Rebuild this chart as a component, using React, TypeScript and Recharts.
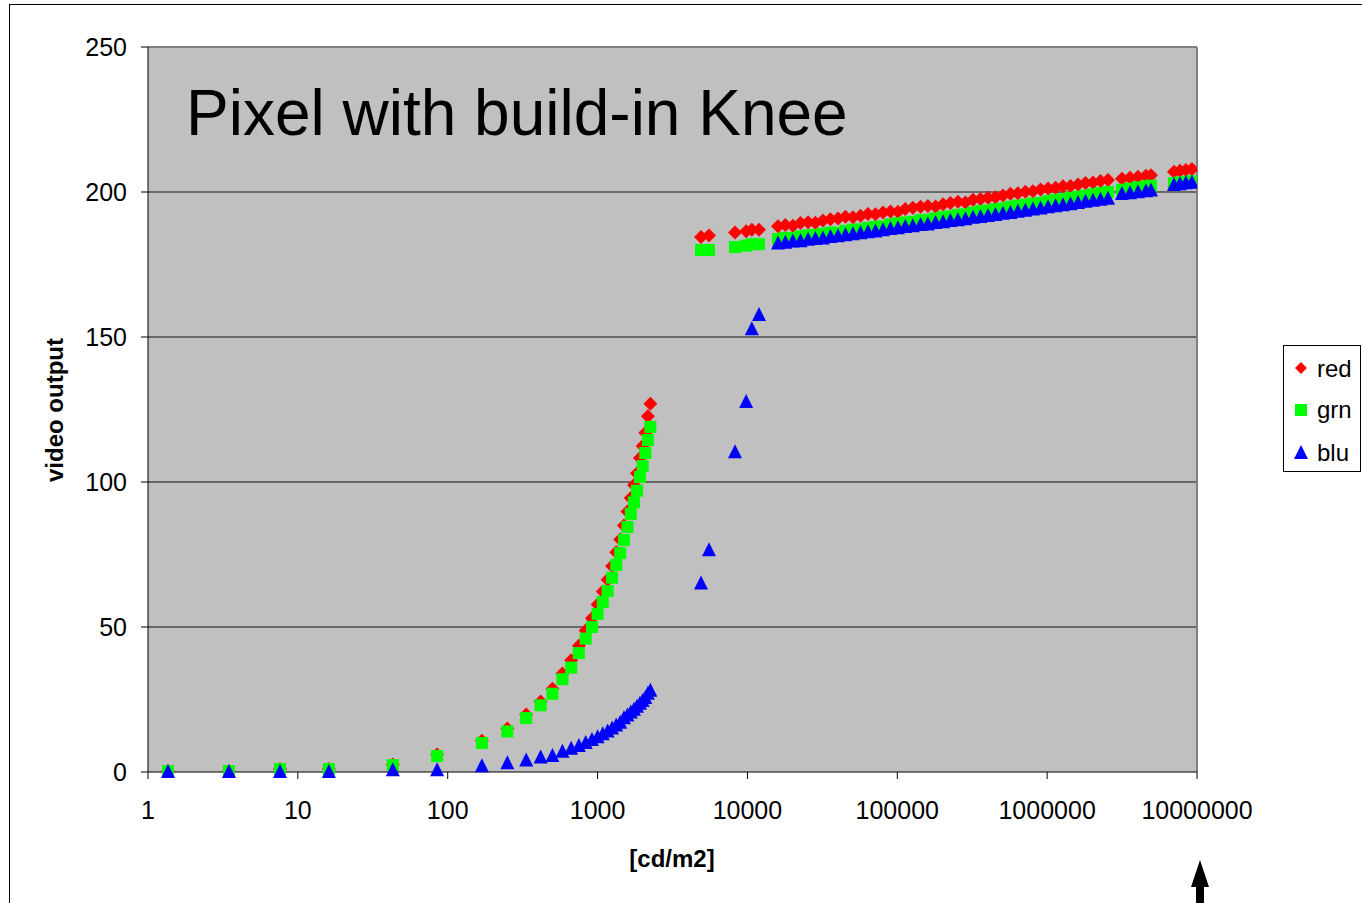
import React from "react";
import { ScatterChart, Scatter, XAxis, YAxis, ReferenceLine, ReferenceArea } from "recharts";

// luminance [cd/m2], one row per exposure step
const lowX = [
  1.36, 3.47, 7.6, 16.1, 43, 85,
  169, 250, 334, 417, 500, 583, 667, 750, 833, 917,
  1000, 1083, 1167, 1250, 1333, 1417, 1500, 1583, 1667, 1750,
  1833, 1917, 2000, 2083, 2167, 2250,
];
const midX = [4900, 5540, 8260, 9800, 10700, 11950];
const highX = [
  16000, 17900, 20100, 22600, 25400, 28400, 31900, 35800, 40200, 45100,
  50600, 56800, 63700, 71500, 80300, 90100, 101000, 113000, 127000, 143000,
  160000, 180000, 202000, 226000, 254000, 285000, 320000, 359000, 403000, 452000,
  507000, 569000, 638000, 716000, 804000, 904000, 1014000, 1138000, 1276000, 1432000,
  1607000, 1803000, 2023000, 2270000, 2547000,
  3157000, 3571000, 4038000, 4564000, 4932000,
  7020000, 7696000, 8437000, 9250000,
];

const redLow = [
  0.3, 0.3, 1, 1, 2.6, 6,
  10.8, 15, 19.8, 24.3, 28.7, 34, 38.5, 43.5, 48.8, 53,
  57.8, 62.2, 66.3, 71, 75.8, 80.2, 85, 89.8, 94.5, 99,
  103, 108.3, 112.4, 117, 122.7, 127,
];
const grnLow = [
  0.3, 0.3, 1, 1, 2.4, 5.5,
  10, 14, 18.6, 23, 27, 32, 36, 41, 46, 50,
  54.5, 58.6, 62.4, 67, 71.4, 75.5, 80, 84.5, 89, 93,
  97, 101.7, 105.5, 110, 114.5, 119,
];
const bluLow = [
  0, 0, 0, 0, 0.6, 0.6,
  2, 3, 4, 5, 5.5, 7, 8, 9, 10, 11,
  12, 13, 14, 15, 16, 17, 18.5, 19.5, 20.5, 21.5,
  22.5, 23.5, 24.5, 25.5, 27, 28,
];

const redMid = [184.5, 185, 186, 186.5, 187, 187];
const grnMid = [180, 180, 181, 181.5, 182, 182];
const bluMid = [65, 76.5, 110.3, 127.6, 152.7, 157.6];

const redHigh = [
  188.2, 188.6, 188.4, 189.3, 189.6, 189.4, 190.2, 190.6, 190.9, 191.5,
  191.3, 191.8, 192.4, 192.3, 192.9, 193.3, 193.2, 194.1, 194.6, 194.9,
  195.2, 195.0, 195.8, 196.2, 196.6, 196.4, 197.3, 197.6, 198.0, 198.2,
  198.8, 199.4, 199.6, 200.1, 200.3, 200.9, 201.2, 201.5, 202.0, 202.1,
  202.6, 203.1, 203.3, 203.8, 204.1,
  204.6, 204.9, 205.3, 205.6, 205.8,
  207.0, 207.3, 207.6, 207.9,
];
const grnHigh = [
  183.8, 184.2, 184.1, 184.7, 185.0, 185.2, 185.6, 186.0, 185.9, 186.6,
  187.0, 187.1, 187.6, 188.0, 188.1, 188.8, 189.2, 189.5, 189.7, 190.3,
  190.4, 190.9, 191.4, 191.6, 192.1, 192.3, 192.8, 193.4, 193.6, 194.1,
  194.3, 194.9, 195.3, 195.6, 196.0, 196.2, 196.8, 197.3, 197.5, 198.0,
  198.3, 198.7, 199.2, 199.6, 200.0,
  200.8, 201.2, 201.6, 201.9, 202.2,
  203.0, 203.3, 203.5, 203.7,
];
const bluHigh = [
  182.2, 182.5, 182.9, 183.0, 183.5, 183.8, 184.0, 184.5, 184.7, 185.1,
  185.4, 185.8, 186.1, 186.4, 186.8, 187.2, 187.5, 187.9, 188.2, 188.6,
  188.8, 189.3, 189.6, 190.0, 190.3, 190.6, 191.1, 191.4, 191.7, 192.1,
  192.5, 192.8, 193.2, 193.5, 194.0, 194.3, 194.7, 195.1, 195.4, 195.8,
  196.2, 196.6, 197.0, 197.3, 197.7,
  199.3, 199.6, 199.9, 200.3, 200.5,
  202.4, 202.7, 203.0, 203.2,
];

const xTicks = [1, 10, 100, 1000, 10000, 100000, 1000000, 10000000];
const yTicks = [0, 50, 100, 150, 200, 250];
const gridLines = [50, 100, 150, 200];

const FONT = "'Liberation Sans', Arial, Helvetica, sans-serif";
const RED = "#FF0000";
const GRN = "#00FF00";
const BLU = "#0000FF";

const allX = [...lowX, ...midX, ...highX];
const rows = (ys: number[]) => allX.map((x, i) => ({ x, y: ys[i] }));
const redData = rows([...redLow, ...redMid, ...redHigh]);
const grnData = rows([...grnLow, ...grnMid, ...grnHigh]);
const bluData = rows([...bluLow, ...bluMid, ...bluHigh]);

const Diamond = (p: any) => (
  <polygon
    points={`${p.cx},${p.cy - 7} ${p.cx + 7},${p.cy} ${p.cx},${p.cy + 7} ${p.cx - 7},${p.cy}`}
    fill={RED}
  />
);
const Square = (p: any) => <rect x={p.cx - 6} y={p.cy - 6} width={12} height={12} fill={GRN} />;
const Triangle = (p: any) => (
  <polygon
    points={`${p.cx},${p.cy - 8} ${p.cx + 7},${p.cy + 6} ${p.cx - 7},${p.cy + 6}`}
    fill={BLU}
  />
);

function LegendBox() {
  const items = [
    { name: "red", y: 24, icon: <polygon points="18,17 24,23 18,29 12,23" fill={RED} /> },
    { name: "grn", y: 65, icon: <rect x={12} y={59} width={12} height={12} fill={GRN} /> },
    { name: "blu", y: 108, icon: <polygon points="18,100 25,114 11,114" fill={BLU} /> },
  ];
  return (
    <svg
      width={79}
      height={128}
      style={{ position: "absolute", left: 1283, top: 345, overflow: "visible" }}
    >
      <rect x={0.5} y={0.5} width={77} height={126} fill="#fff" stroke="#000" />
      {items.map((it) => (
        <g key={it.name}>
          {it.icon}
          <text x={34} y={it.y + 8} fontSize={24} fontFamily={FONT} fill="#000">
            {it.name}
          </text>
        </g>
      ))}
    </svg>
  );
}

export default function App() {
  return (
    <div style={{ position: "absolute", left: 0, top: 0, width: 1362, height: 903, background: "#fff", overflow: "hidden" }}>
      <ScatterChart
        width={1362}
        height={903}
        margin={{ top: 47, right: 165, bottom: 71, left: 88 }}
      >
        <ReferenceArea x1={1} x2={10000000} y1={0} y2={250} fill="#C0C0C0" fillOpacity={1} stroke="none" ifOverflow="hidden" />
        {gridLines.map((v) => (
          <ReferenceLine key={v} y={v} stroke="#111" strokeWidth={1} />
        ))}
        <ReferenceLine y={250} stroke="#808080" strokeWidth={2} />
        <ReferenceLine x={10000000} stroke="#808080" strokeWidth={2} />
        <XAxis
          type="number"
          dataKey="x"
          scale="log"
          domain={[1, 10000000]}
          ticks={xTicks}
          interval={0}
          allowDataOverflow
          height={60}
          tickSize={7}
          tickMargin={22}
          stroke="#000"
          tick={{ fontSize: 25, fill: "#000", fontFamily: FONT }}
          tickFormatter={(v) => String(v)}
        />
        <YAxis
          type="number"
          dataKey="y"
          domain={[0, 250]}
          ticks={yTicks}
          interval={0}
          width={60}
          tickSize={7}
          tickMargin={14}
          stroke="#000"
          tick={{ fontSize: 25, fill: "#000", fontFamily: FONT }}
        />
        <Scatter name="red" data={redData} shape={Diamond} isAnimationActive={false} />
        <Scatter name="grn" data={grnData} shape={Square} isAnimationActive={false} />
        <Scatter name="blu" data={bluData} shape={Triangle} isAnimationActive={false} />
      </ScatterChart>

      <svg width={1362} height={903} style={{ position: "absolute", left: 0, top: 0, pointerEvents: "none" }}>
        <rect x={9.5} y={4.5} width={1400} height={1000} fill="none" stroke="#000" />
        <text x={186} y={135} fontSize={64} fontFamily={FONT} fill="#000">
          Pixel with build-in Knee
        </text>
        <text
          x={0}
          y={0}
          transform="translate(63 410) rotate(-90)"
          textAnchor="middle"
          fontSize={24}
          fontWeight="bold"
          fontFamily={FONT}
          fill="#000"
        >
          video output
        </text>
        <text x={672} y={867} textAnchor="middle" fontSize={24} fontWeight="bold" fontFamily={FONT} fill="#000">
          [cd/m2]
        </text>
        <polygon points="1200,860 1209,887 1204,887 1204,903 1196,903 1196,887 1191,887" fill="#000" />
      </svg>
      <LegendBox />
    </div>
  );
}
